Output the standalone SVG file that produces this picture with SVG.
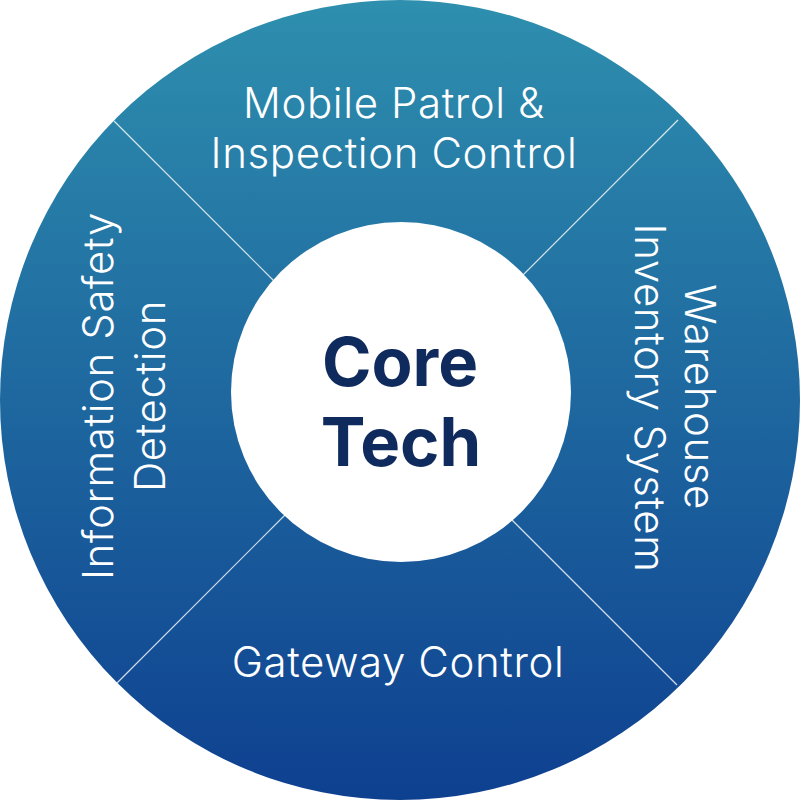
<svg xmlns="http://www.w3.org/2000/svg" width="800" height="800" viewBox="0 0 800 800">
  <defs>
    <linearGradient id="ringFill" x1="0" y1="0" x2="0" y2="1">
      <stop offset="0" stop-color="#2e8fae"/>
      <stop offset="1" stop-color="#0e4090"/>
    </linearGradient>
    <style>
      .label { font-family: Inter, "Noto Sans", "Liberation Sans", sans-serif; font-size: 42px; font-weight: 300; letter-spacing: 0.6px; fill: #ffffff; text-anchor: middle; }
      .core { font-family: Inter, "Noto Sans", "Liberation Sans", sans-serif; font-size: 67px; font-weight: 700; fill: #0f2a5c; text-anchor: middle; }
      .divider { stroke: #ffffff; stroke-opacity: 0.8; stroke-width: 1.2; fill: none; }
    </style>
  </defs>

  <!-- outer ring -->
  <g id="ring">
    <circle cx="400" cy="400" r="400" fill="url(#ringFill)"/>
  </g>

  <!-- dividers between the four segments -->
  <g id="connectors">
    <line class="divider" x1="114" y1="121" x2="274" y2="281"/>
    <line class="divider" x1="678" y1="120" x2="522" y2="276"/>
    <line class="divider" x1="117" y1="683" x2="285" y2="515"/>
    <line class="divider" x1="511" y1="519" x2="677" y2="685"/>
  </g>

  <g id="mobile-patrol">
    <text class="label" x="394" y="118">Mobile Patrol &amp;</text>
    <text class="label" x="394" y="168">Inspection Control</text>
  </g>

  <g id="warehouse">
    <text class="label" transform="translate(685,397) rotate(90)">Warehouse</text>
    <text class="label" transform="translate(635,398) rotate(90)">Inventory System</text>
  </g>

  <g id="gateway">
    <text class="label" x="398" y="677">Gateway Control</text>
  </g>

  <g id="info-safety">
    <text class="label" transform="translate(113,396) rotate(-90)">Information Safety</text>
    <text class="label" transform="translate(165,396) rotate(-90)">Detection</text>
  </g>

  <g id="core-tech">
    <circle cx="401" cy="392" r="170" fill="#ffffff"/>
    <text class="core" x="400" y="386">Core</text>
    <text class="core" x="401" y="466">Tech</text>
  </g>
</svg>
